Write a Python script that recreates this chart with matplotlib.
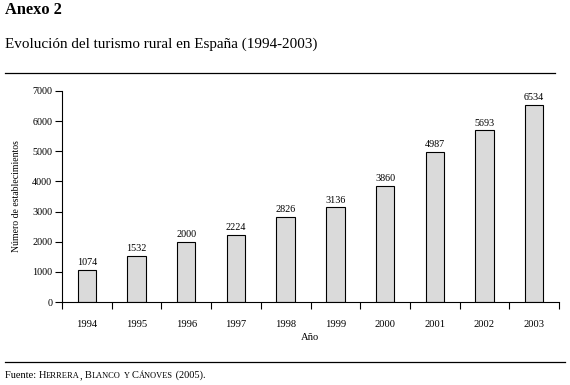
import numpy as np
import matplotlib.pyplot as plt

plt.rcParams['font.family'] = ['Liberation Serif', 'DejaVu Serif']

# Datos
anios = ['1994', '1995', '1996', '1997', '1998', '1999', '2000', '2001', '2002', '2003']
establecimientos = [1074, 1532, 2000, 2224, 2826, 3136, 3860, 4987, 5693, 6534]
yticks = [0, 1000, 2000, 3000, 4000, 5000, 6000, 7000]

fig = plt.figure(figsize=(5.7, 3.85), dpi=100)
ax = fig.add_axes([62 / 570, 83 / 385, 497 / 570, 211 / 385])

x = np.arange(len(anios))
bars = ax.bar(x, establecimientos, width=0.37, color='#dadada', edgecolor='black', linewidth=0.8)
for xi, v in zip(x, establecimientos):
    ax.text(xi, v + 90, str(v), ha='center', va='bottom', fontsize=7.3)

ax.set_xlim(-0.5, len(anios) - 0.5)
ax.set_ylim(0, 7000)
ax.set_yticks(yticks)
ax.tick_params(axis='y', labelsize=7.3, length=5, width=0.8, pad=2)

# ticks entre categorias, etiquetas centradas
ax.set_xticks(np.arange(-0.5, len(anios), 1.0))
ax.set_xticklabels([])
ax.set_xticks(x, minor=True)
ax.set_xticklabels(anios, minor=True, fontsize=7.6)
ax.tick_params(axis='x', which='major', length=5, width=0.8, direction='out')
ax.tick_params(axis='x', which='minor', length=0, pad=13)

ax.spines['top'].set_visible(False)
ax.spines['right'].set_visible(False)
ax.spines['left'].set_linewidth(0.8)
ax.spines['bottom'].set_linewidth(0.8)

ax.set_xlabel('Año', fontsize=7.6, labelpad=3)
ax.set_ylabel('Número de establecimientos', fontsize=7, labelpad=8)

# Encabezado
fig.text(5 / 570, 1 - 10 / 385, 'Anexo 2', fontsize=11.8, fontweight='bold', va='center', ha='left')
fig.text(5 / 570, 1 - 44 / 385, 'Evolución del turismo rural en España (1994-2003)', fontsize=10.9,
         va='center', ha='left')
fig.add_artist(plt.Line2D([5 / 570, 555 / 570], [1 - 73 / 385, 1 - 73 / 385], color='black', linewidth=0.9))
fig.add_artist(plt.Line2D([5 / 570, 565 / 570], [1 - 362 / 385, 1 - 362 / 385], color='black', linewidth=0.9))

# Fuente con versalitas
partes = [('Fuente: ', 7.5), ('H', 7.5), ('ERRERA', 6), (', ', 7.5), ('B', 7.5), ('LANCO', 6), (' ', 7.5),
          ('Y', 6), (' ', 7.5), ('C', 7.5), ('ÁNOVES', 6), (' (2005).', 7.5)]
fig.canvas.draw()
renderer = fig.canvas.get_renderer()
xpos = 5
for txt, size in partes:
    t = fig.text(xpos / 570, 1 - 378 / 385, txt, fontsize=size, va='baseline', ha='left')
    bb = t.get_window_extent(renderer=renderer)
    xpos += bb.width

fig.savefig('out.png', dpi=100)
